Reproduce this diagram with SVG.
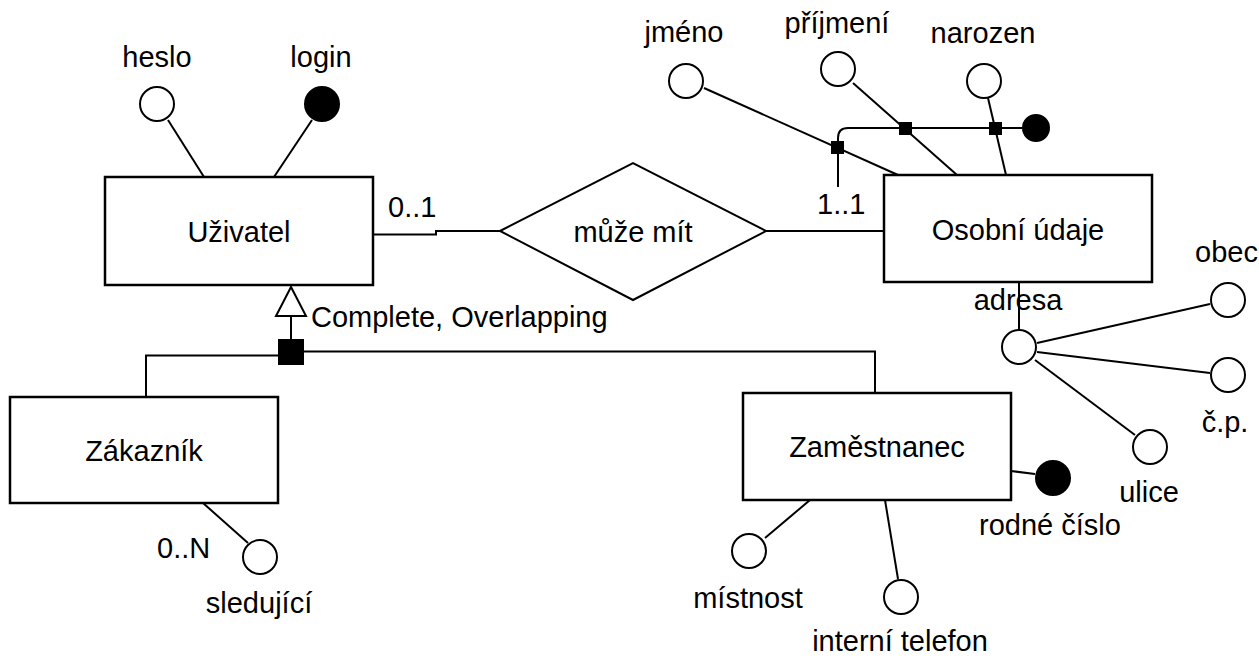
<svg xmlns="http://www.w3.org/2000/svg" width="1259" height="656" viewBox="0 0 1259 656">
<style>
.box{fill:#fff;stroke:#000;stroke-width:2.5}
.ln{fill:none;stroke:#000;stroke-width:2}
.at{fill:#fff;stroke:#000;stroke-width:2}
.key{fill:#000;stroke:#000;stroke-width:2}
text{font-family:"Liberation Sans",Arial,sans-serif;font-size:29px;fill:#000}
.c{text-anchor:middle}
</style>
<rect width="1259" height="656" fill="#fff"/>
<g id="connectors">
<line class="ln" x1="168" y1="120" x2="204" y2="177"/>
<line class="ln" x1="312" y1="120" x2="274" y2="177"/>
<polyline class="ln" points="373,234.5 436,234.5 436,231 500,231"/>
<line class="ln" x1="766" y1="231" x2="884" y2="231"/>
<line class="ln" x1="704" y1="88" x2="898" y2="175"/>
<line class="ln" x1="853" y1="83" x2="957" y2="175"/>
<line class="ln" x1="988" y1="98" x2="1006" y2="175"/>
<path class="ln" d="M838,187 L838,138 Q838,128 848,128 L1022,128"/>
<line class="ln" x1="1019" y1="282" x2="1019" y2="330"/>
<line class="ln" x1="1037" y1="343" x2="1210" y2="304"/>
<line class="ln" x1="1037" y1="352" x2="1210" y2="373"/>
<line class="ln" x1="1035" y1="360" x2="1135" y2="435"/>
<line class="ln" x1="291" y1="316" x2="291" y2="339"/>
<polyline class="ln" points="279,355.5 146,355.5 146,397"/>
<polyline class="ln" points="304,351.5 875,351.5 875,393"/>
<line class="ln" x1="203" y1="503" x2="248" y2="543"/>
<line class="ln" x1="810" y1="500" x2="765" y2="538"/>
<line class="ln" x1="885" y1="500" x2="898" y2="579"/>
<line class="ln" x1="1011" y1="471" x2="1035" y2="474"/>
</g>
<g id="uzivatel">
<rect class="box" x="105" y="177" width="268" height="108"/>
<text class="c" x="239" y="242">Uživatel</text>
</g>
<g id="heslo">
<circle class="at" cx="157" cy="104" r="17"/>
<text class="c" x="157" y="67">heslo</text>
</g>
<g id="login">
<circle class="key" cx="322" cy="104" r="17"/>
<text class="c" x="321" y="67">login</text>
</g>
<g id="muze-mit">
<polygon class="at" points="500,231 633,163 766,231 633,300"/>
<text class="c" x="633" y="242">může mít</text>
</g>
<g id="card-01"><text x="388" y="217">0..1</text></g>
<g id="card-11"><text x="817" y="214">1..1</text></g>
<g id="osobni-udaje">
<rect class="box" x="884" y="175" width="268" height="107"/>
<text class="c" x="1018" y="240">Osobní údaje</text>
</g>
<g id="jmeno">
<circle class="at" cx="686" cy="81" r="17"/>
<text class="c" x="684" y="42">jméno</text>
</g>
<g id="prijmeni">
<circle class="at" cx="838" cy="69" r="17"/>
<text class="c" x="837" y="33">příjmení</text>
</g>
<g id="narozen">
<circle class="at" cx="984" cy="81" r="17"/>
<text class="c" x="983" y="43">narozen</text>
</g>
<g id="composite-key">
<rect class="key" x="832" y="142" width="11" height="11"/>
<rect class="key" x="900" y="123" width="11" height="11"/>
<rect class="key" x="990" y="123" width="11" height="11"/>
<circle class="key" cx="1036" cy="128" r="13"/>
</g>
<g id="adresa">
<circle class="at" cx="1019" cy="347" r="17"/>
<text class="c" x="1018" y="310">adresa</text>
</g>
<g id="obec">
<circle class="at" cx="1228" cy="300" r="17"/>
<text x="1195" y="262">obec</text>
</g>
<g id="cp">
<circle class="at" cx="1228" cy="375" r="17"/>
<text class="c" x="1225" y="432">č.p.</text>
</g>
<g id="ulice">
<circle class="at" cx="1150" cy="447" r="17"/>
<text class="c" x="1149" y="502">ulice</text>
</g>
<g id="generalization">
<polygon class="at" points="291,287 276,316 306,316"/>
<rect class="key" x="279" y="340" width="24" height="24"/>
<text x="311" y="327">Complete, Overlapping</text>
</g>
<g id="zakaznik">
<rect class="box" x="10" y="397" width="268" height="106"/>
<text class="c" x="144" y="461">Zákazník</text>
</g>
<g id="sledujici">
<circle class="at" cx="260" cy="557" r="17"/>
<text x="157" y="558">0..N</text>
<text class="c" x="259" y="613">sledující</text>
</g>
<g id="zamestnanec">
<rect class="box" x="743" y="393" width="268" height="107"/>
<text class="c" x="877" y="457">Zaměstnanec</text>
</g>
<g id="mistnost">
<circle class="at" cx="749" cy="551" r="17"/>
<text class="c" x="748" y="608">místnost</text>
</g>
<g id="interni-telefon">
<circle class="at" cx="901" cy="597" r="17"/>
<text class="c" x="900" y="651">interní telefon</text>
</g>
<g id="rodne-cislo">
<circle class="key" cx="1053" cy="478" r="17"/>
<text class="c" x="1050" y="535">rodné číslo</text>
</g>
</svg>
